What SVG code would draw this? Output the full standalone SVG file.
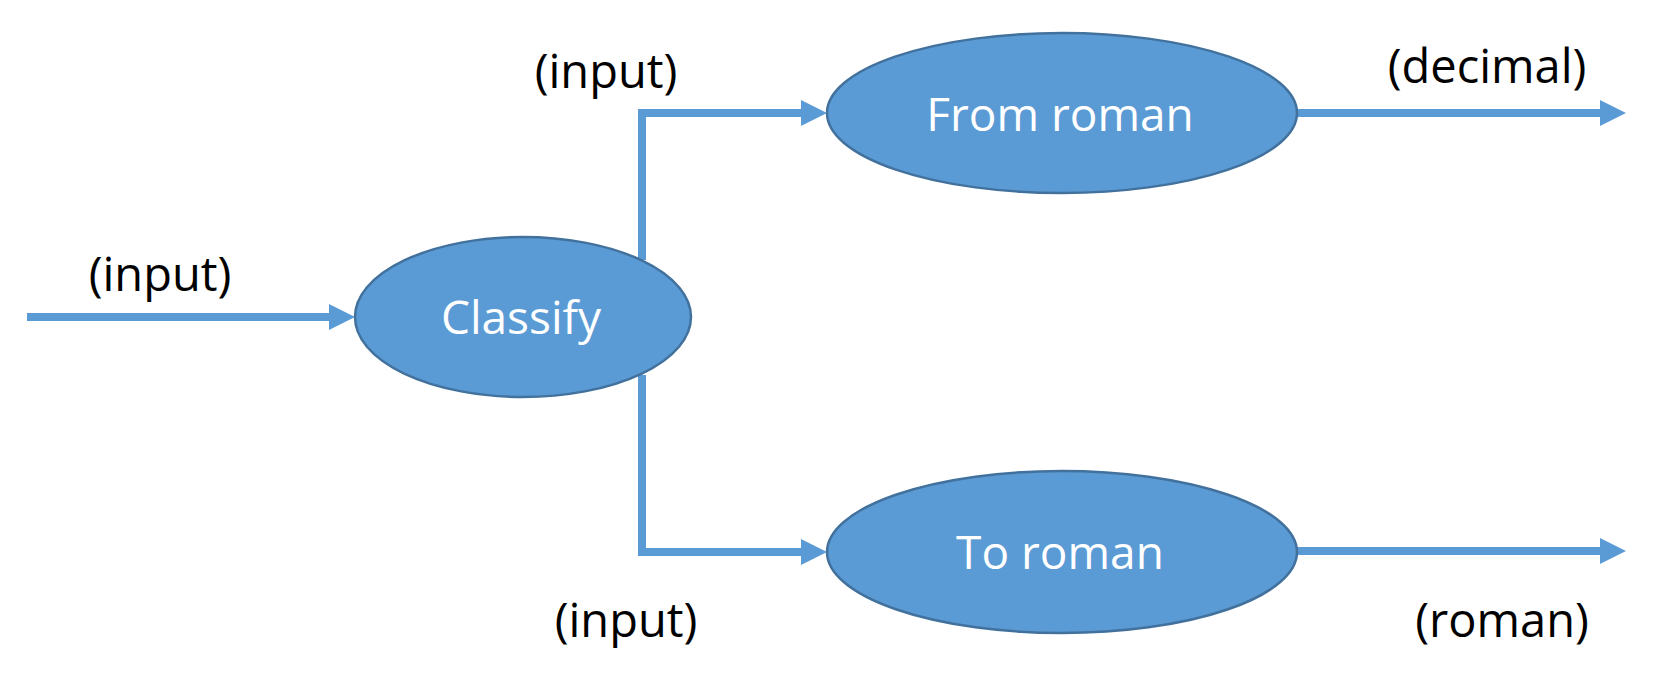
<svg xmlns="http://www.w3.org/2000/svg" width="1678" height="680" viewBox="0 0 1678 680">
  <style>
    .node { fill: #5B9BD5; stroke: #41719C; stroke-width: 2.5; }
    .nlabel { font-family: "Open Sans", "Liberation Sans", sans-serif; font-size: 46px; fill: #FFFFFF; text-anchor: middle; }
    .elabel { font-family: "Open Sans", "Liberation Sans", sans-serif; font-size: 47px; fill: #000000; text-anchor: middle; }
    .conn { fill: none; stroke: #5B9BD5; stroke-width: 8; stroke-linejoin: miter; }
  </style>
  <defs>
    <marker id="arrow" markerUnits="userSpaceOnUse" markerWidth="26" markerHeight="26" refX="6" refY="13" orient="auto">
      <path d="M0,0 L26,13 L0,26 Z" fill="#5B9BD5"/>
    </marker>
  </defs>
  <rect x="0" y="0" width="1678" height="680" fill="#FFFFFF"/>
  <g id="connectors">
    <path class="conn" d="M27,317 H335" marker-end="url(#arrow)"/>
    <path class="conn" d="M642,260 V113 H807" marker-end="url(#arrow)"/>
    <path class="conn" d="M642,375 V552 H807" marker-end="url(#arrow)"/>
    <path class="conn" d="M1297,113 H1606" marker-end="url(#arrow)"/>
    <path class="conn" d="M1297,551 H1606" marker-end="url(#arrow)"/>
  </g>
  <g id="edge-labels">
    <text class="elabel" x="160" y="291">(input)</text>
    <text class="elabel" x="606" y="88">(input)</text>
    <text class="elabel" x="626" y="637">(input)</text>
    <text class="elabel" x="1487" y="83">(decimal)</text>
    <text class="elabel" x="1502" y="637">(roman)</text>
  </g>
  <g id="node-classify">
    <ellipse class="node" cx="523" cy="317" rx="168" ry="80"/>
    <text class="nlabel" x="521" y="334">Classify</text>
  </g>
  <g id="node-from-roman">
    <ellipse class="node" cx="1062" cy="113" rx="235" ry="80"/>
    <text class="nlabel" x="1060" y="131">From roman</text>
  </g>
  <g id="node-to-roman">
    <ellipse class="node" cx="1062" cy="552" rx="235" ry="81"/>
    <text class="nlabel" x="1060" y="569">To roman</text>
  </g>
</svg>
